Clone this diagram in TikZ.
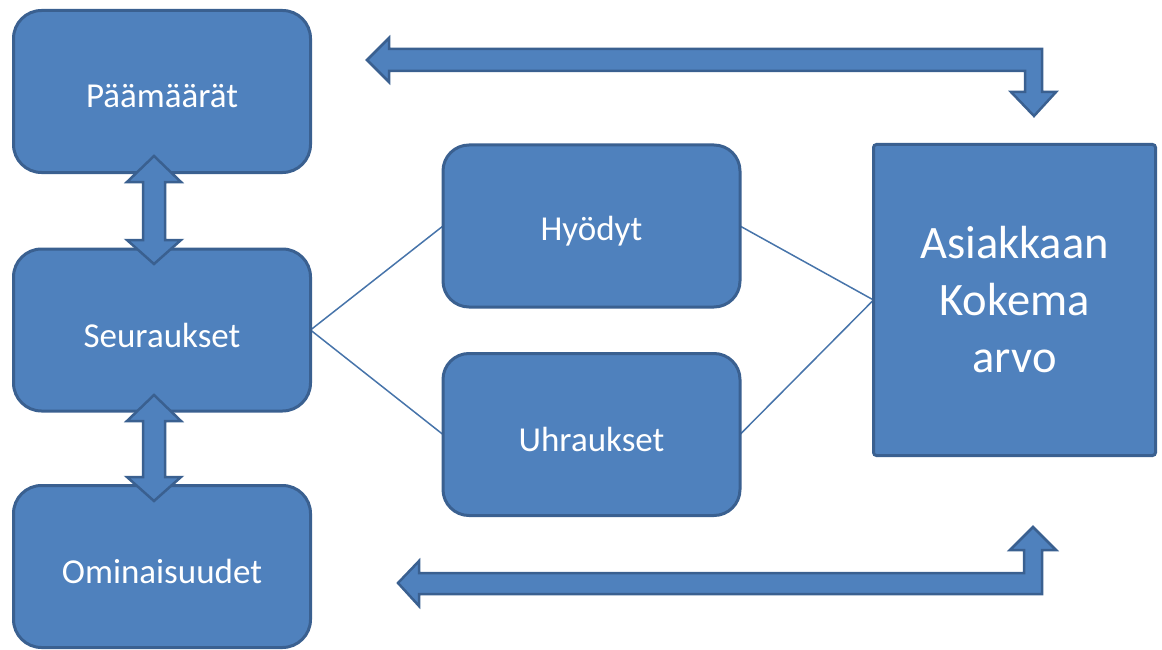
\documentclass[tikz,border=0pt]{standalone}
\usepackage{fontspec}
\setmainfont{Carlito}
\definecolor{boxfill}{HTML}{4F81BD}
\definecolor{boxline}{HTML}{3A6090}
\pgfdeclarelayer{background}
\pgfsetlayers{background,main}
\tikzset{
  rbox/.style={draw=boxline, fill=boxfill, line width=3pt, rounded corners=28pt,
    minimum width=297pt, minimum height=162pt, inner sep=0pt, outer sep=0pt,
    text=white, font=\fontsize{35}{42}\selectfont},
  mbox/.style={rbox, rounded corners=26pt},
  bigbox/.style={draw=boxline, fill=boxfill, line width=3pt, rounded corners=3pt,
    minimum width=282pt, minimum height=311pt, inner sep=0pt, outer sep=0pt,
    text=white, align=center, font=\fontsize{46.5}{57}\selectfont},
  thin/.style={draw=boxfill!90!black, line width=1.5pt},
  fatarrow/.style={draw=boxline, fill=boxfill, line width=2.5pt, line join=miter}
}
\newcommand{\lowtxt}[1]{\raisebox{-5pt}[\height][\depth]{#1}}
\begin{document}
\begin{tikzpicture}[x=1pt, y=-1pt]
\useasboundingbox (0,0) rectangle (1162,650);
\node[rbox] (p) at (162,91.5) {\lowtxt{P\"a\"am\"a\"ar\"at}};
\node[rbox] (s) at (162,330) {\lowtxt{Seuraukset}};
\node[rbox] (o) at (162,566.5) {\lowtxt{Ominaisuudet}};
\node[mbox] (h) at (591.5,226) {\lowtxt{Hy\"odyt}};
\node[mbox] (u) at (591.5,434.5) {\lowtxt{Uhraukset}};
\node[bigbox] (a) at (1014.5,300) {Asiakkaan\\Kokema\\arvo};
\begin{pgfonlayer}{background}
\draw[thin] (s.east) -- (h.west);
\draw[thin] (s.east) -- (u.west);
\draw[thin] (h.east) -- (a.west);
\draw[thin] (u.east) -- (a.west);
\end{pgfonlayer}
% vertical double arrows
\draw[fatarrow] (154,156) -- (181,182) -- (165,182) -- (165,240) -- (181,240) -- (154,264)
  -- (127,240) -- (143,240) -- (143,182) -- (127,182) -- cycle;
\draw[fatarrow] (154,395) -- (181,421) -- (165,421) -- (165,477) -- (181,477) -- (154,501)
  -- (127,477) -- (143,477) -- (143,421) -- (127,421) -- cycle;
% top bent arrow
\draw[fatarrow] (367,60) -- (389,38) -- (389,49) -- (1042,49) -- (1042,92) -- (1056,92)
  -- (1034,116) -- (1011,92) -- (1025,92) -- (1025,71) -- (389,71) -- (389,82) -- cycle;
% bottom bent arrow
\draw[fatarrow] (398,583) -- (419,561) -- (419,573) -- (1024,573) -- (1024,550) -- (1010,550)
  -- (1033,527) -- (1056,550) -- (1042,550) -- (1042,594) -- (419,594) -- (419,606) -- cycle;
\end{tikzpicture}
\end{document}
